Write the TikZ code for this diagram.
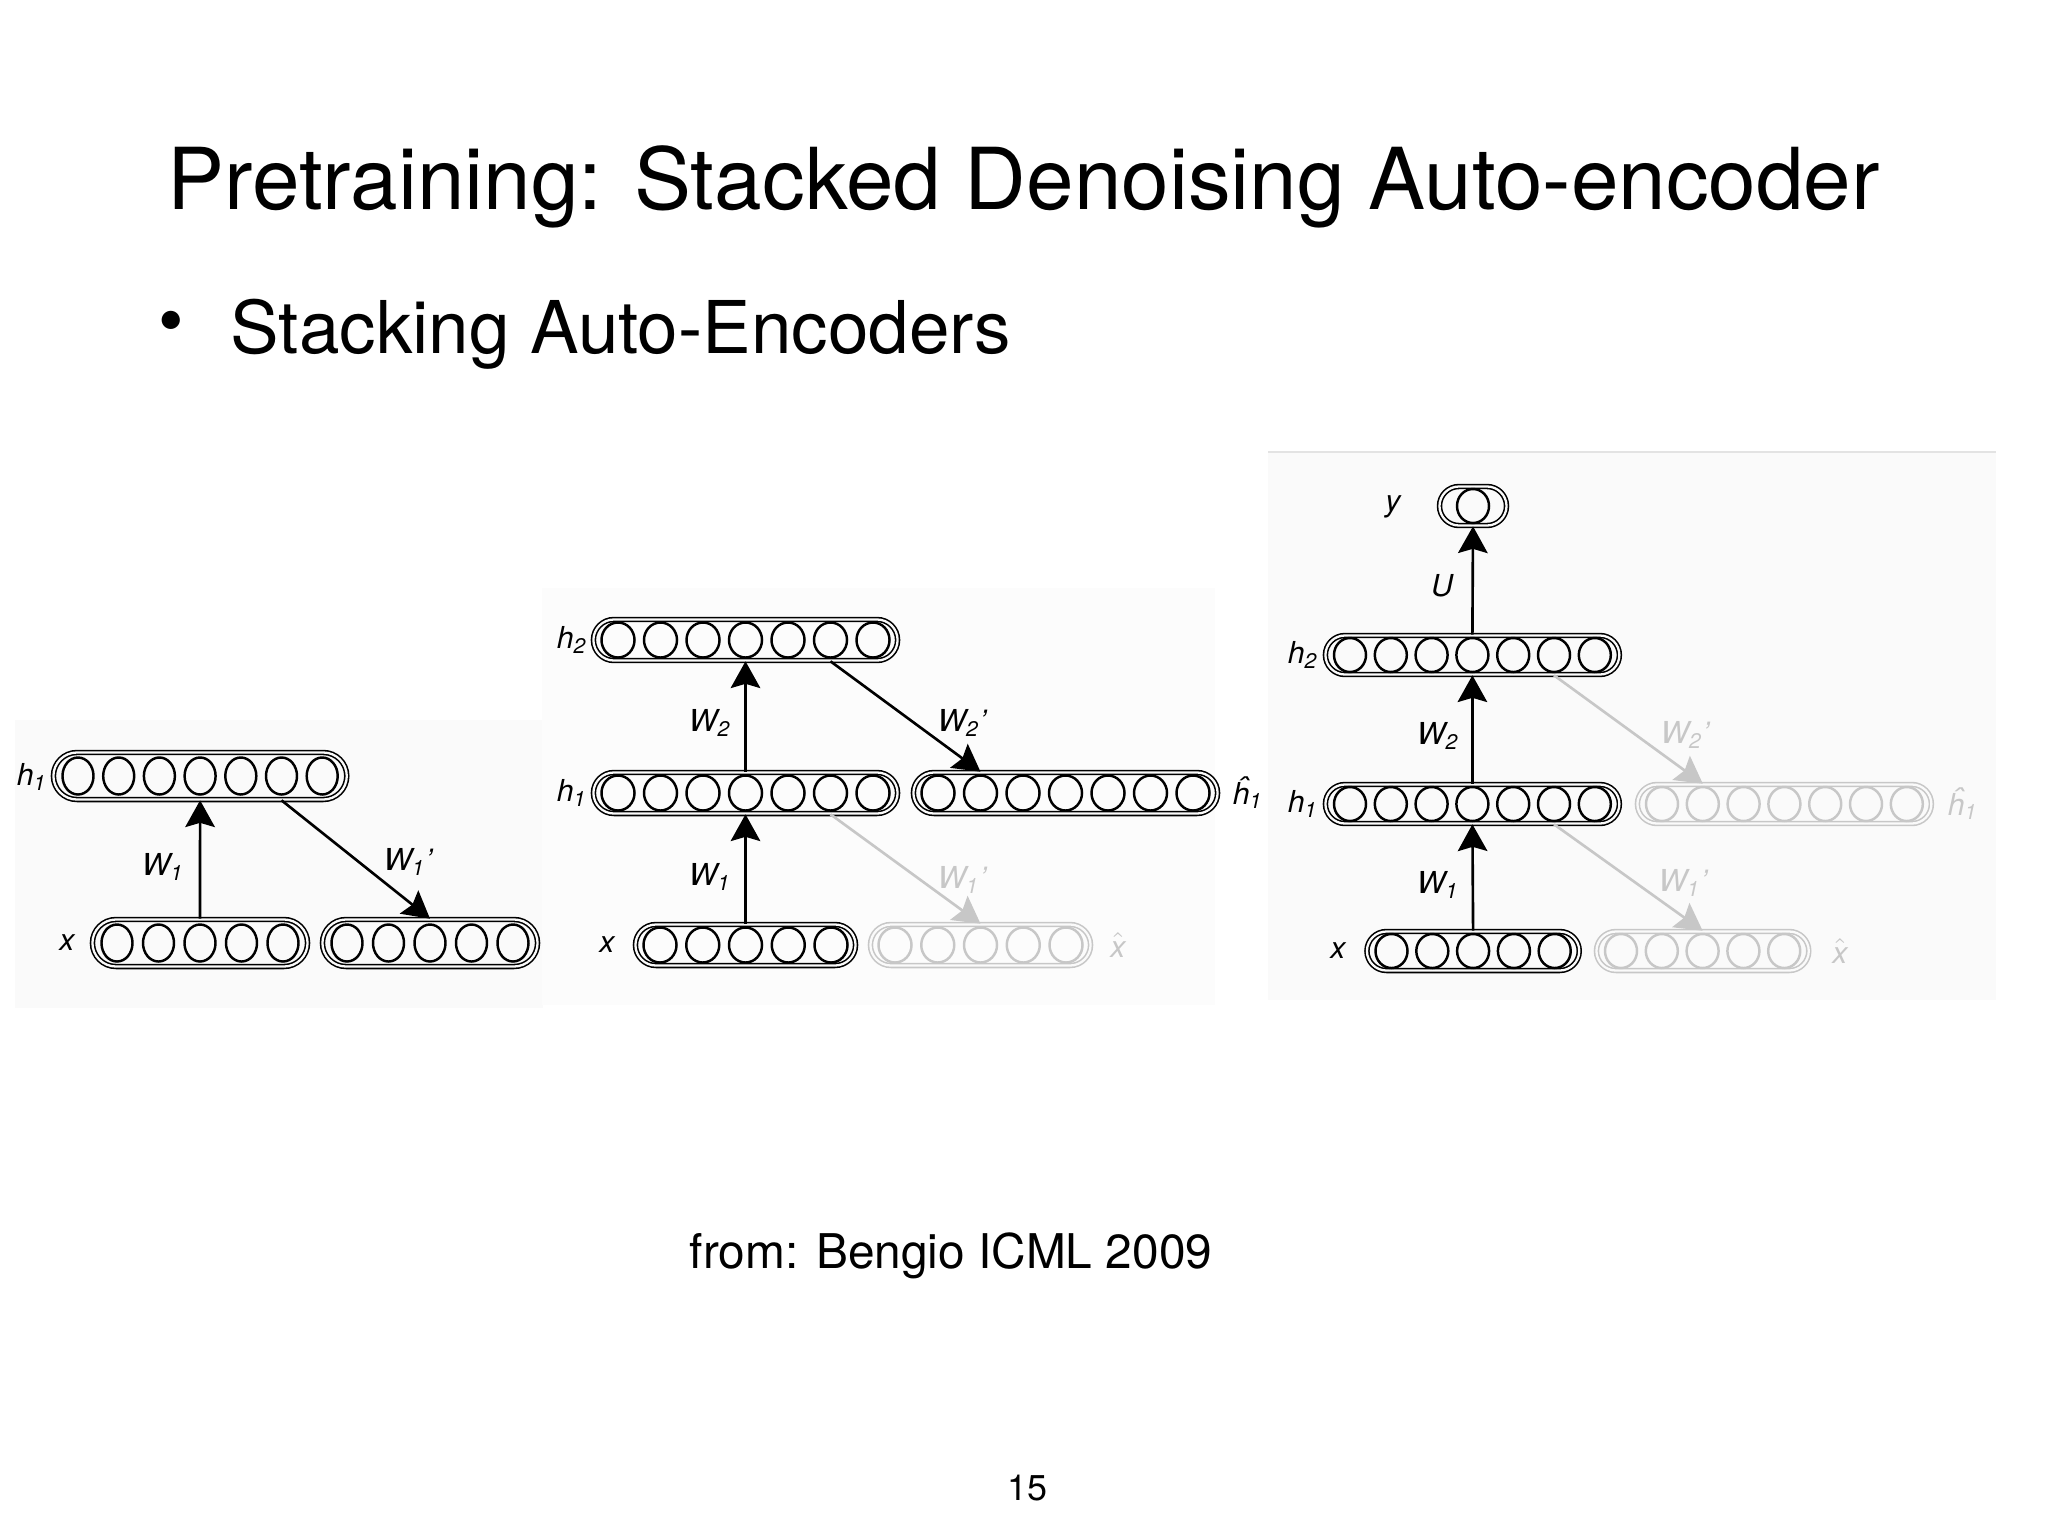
\documentclass[tikz,border=0pt]{standalone}
\usepackage{fontspec}
\setmainfont{TeX Gyre Heros}
\usetikzlibrary{arrows.meta,shapes.misc,shapes.geometric}

\definecolor{faded}{gray}{0.78}
\definecolor{panelbg}{gray}{0.98}
\definecolor{rule}{gray}{0.89}

\tikzset{
    bar/.style={rounded rectangle, draw, double=panelbg, line width=0.45pt,
        double distance=0.65pt, inner sep=0pt},
    unit/.style={ellipse, draw, line width=0.7pt, inner sep=0pt},
    lbl/.style={font=\fontsize{8.6}{10}\selectfont\itshape, inner sep=0pt},
    up/.style={-{Stealth[length=7.6pt,width=8.4pt,inset=1.2pt]}, line width=0.75pt},
    dim/.style={draw=faded},
    dimtext/.style={text=faded},
}

% one layer: name, units, x of first unit, y, spacing, extra style
\newcommand{\layer}[6]{%
    \pgfmathsetmacro{\barx}{#3+(#2-1)*#5/2}
    \pgfmathsetmacro{\barw}{((#2-1)*#5+49)/100}
    \node[bar,#6,minimum width=\barw cm] (#1) at (\barx,#4) {};
    \foreach \i in {1,...,#2}
        \node[unit,#6] (#1-\i) at ({#3+(\i-1)*#5},#4) {};
}

\begin{document}
\begin{tikzpicture}[x=0.01cm,y=-0.01cm]
    \useasboundingbox (0,0) rectangle (2048,1536);

    % slide text
    \node[anchor=base west, inner sep=0pt, font=\fontsize{24.3}{29}\selectfont]
        (title) at (167,209) {Pretraining: Stacked Denoising Auto-encoder};
    \node[inner sep=0pt, font=\fontsize{20.7}{25}\selectfont] (dot) at (171,328) {•};
    \node[anchor=base west, inner sep=0pt, font=\fontsize{20.7}{25}\selectfont]
        (point) at (230,353) {Stacking Auto-Encoders};
    \node[anchor=base west, inner sep=0pt, font=\fontsize{13.6}{16}\selectfont]
        (source) at (689,1268) {from: Bengio ICML 2009};
    \node[anchor=base west, inner sep=0pt, font=\fontsize{10.2}{12}\selectfont]
        (page) at (1007,1500) {15};

    % image backgrounds
    \fill[panelbg] (15,720) rectangle (543,1008);
    \fill[panelbg!50!white] (542,588) rectangle (1215,1005);
    \fill[panelbg] (1268,452) rectangle (1996,1000);
    \draw[rule, line width=0.8pt] (1268,452) -- (1996,452);

    % first auto-encoder
    \begin{scope}[bar/.append style={minimum height=0.47cm},
        unit/.append style={minimum width=0.31cm, minimum height=0.37cm}]
        \layer{p1h1}{7}{78}{776}{40.7}{}
        \layer{p1x}{5}{117}{943}{41.5}{}
        \layer{p1r}{5}{347}{943}{41.5}{}
        \draw[up] (p1x.north) -- (p1h1.south);
        \draw[up] (p1h1-6 |- p1h1.south) -- (p1r-3 |- p1r.north);
        \node[lbl] at (32,777) {h\textsubscript{1}};
        \node[lbl] at (67,943) {x};
        \node[lbl] at (163,867) {W\textsubscript{1}};
        \node[lbl] at (408,862) {W\textsubscript{1}'};
    \end{scope}

    % second auto-encoder
    \begin{scope}[bar/.append style={minimum height=0.41cm},
        unit/.append style={minimum width=0.33cm, minimum height=0.35cm}]
        \layer{p2h2}{7}{618}{640}{42.5}{}
        \layer{p2h1}{7}{618}{793}{42.5}{}
        \layer{p2hh}{7}{938}{793}{42.5}{}
        \layer{p2x}{5}{660}{945}{42.75}{}
        \layer{p2xx}{5}{895}{945}{42.75}{dim}
        \draw[up] (p2h1.north) -- (p2h2.south);
        \draw[up] (p2x.north) -- (p2h1.south);
        \draw[up] (p2h2-6 |- p2h2.south) -- (p2hh-2 |- p2hh.north);
        \draw[up, dim] (p2h1-6 |- p2h1.south) -- (p2xx-3 |- p2xx.north);
        \node[lbl] at (572,640) {h\textsubscript{2}};
        \node[lbl] at (572,793) {h\textsubscript{1}};
        \node[lbl] at (607,945) {x};
        \node[lbl] at (1248,793) {ĥ\textsubscript{1}};
        \node[lbl, dimtext] at (1118,945) {$\hat{\mbox{\itshape x}}$};
        \node[lbl] at (710,723) {W\textsubscript{2}};
        \node[lbl] at (962,723) {W\textsubscript{2}'};
        \node[lbl] at (710,877) {W\textsubscript{1}};
        \node[lbl, dimtext] at (962,880) {W\textsubscript{1}'};
    \end{scope}

    % stacked network with output
    \begin{scope}[bar/.append style={minimum height=0.39cm},
        unit/.append style={minimum width=0.32cm, minimum height=0.34cm}]
        \node[bar, minimum width=0.67cm] (p3y) at (1473,506) {};
        \node[unit] (p3y-1) at (1473,506) {};
        \layer{p3h2}{7}{1350}{655}{40.8}{}
        \layer{p3h1}{7}{1350}{804}{40.8}{}
        \layer{p3hh}{7}{1662}{804}{40.8}{dim}
        \layer{p3x}{5}{1391.5}{951}{40.8}{}
        \layer{p3xx}{5}{1621}{951}{40.8}{dim}
        \draw[up] (p3h2.north) -- (p3y.south);
        \draw[up] (p3h1.north) -- (p3h2.south);
        \draw[up] (p3x.north) -- (p3h1.south);
        \draw[up, dim] (p3h2-6 |- p3h2.south) -- (p3hh-2 |- p3hh.north);
        \draw[up, dim] (p3h1-6 |- p3h1.south) -- (p3xx-3 |- p3xx.north);
        \node[lbl] at (1393,507) {y};
        \node[lbl] at (1442,586) {U};
        \node[lbl] at (1303,655) {h\textsubscript{2}};
        \node[lbl] at (1438,736) {W\textsubscript{2}};
        \node[lbl] at (1303,804) {h\textsubscript{1}};
        \node[lbl] at (1438,885) {W\textsubscript{1}};
        \node[lbl] at (1338,951) {x};
        \node[lbl, dimtext] at (1685,735) {W\textsubscript{2}'};
        \node[lbl, dimtext] at (1963,804) {ĥ\textsubscript{1}};
        \node[lbl, dimtext] at (1683,883) {W\textsubscript{1}'};
        \node[lbl, dimtext] at (1840,951) {$\hat{\mbox{\itshape x}}$};
    \end{scope}
\end{tikzpicture}
\end{document}
